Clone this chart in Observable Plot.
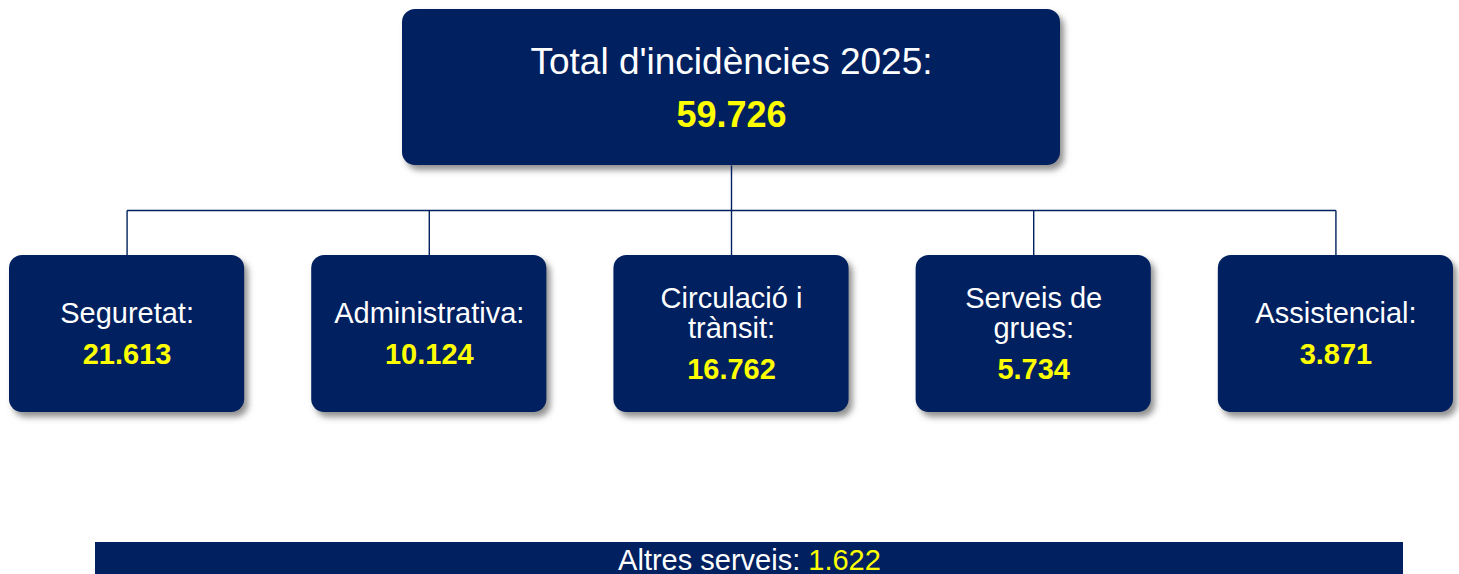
<!DOCTYPE html>
<html>
<head>
<meta charset="utf-8">
<script src="https://cdn.jsdelivr.net/npm/d3@7"></script>
<script src="https://cdn.jsdelivr.net/npm/@observablehq/plot@0.6"></script>
<style>
  html, body { margin: 0; padding: 0; background: #fff; }
  #chart svg { display: block; }
</style>
</head>
<body>
<div id="chart"></div>
<script>
// ---- Data ----
const totalLabel = "Total d'incidències 2025:";
const totalValue = 59726;
const categories = ["Seguretat:", "Administrativa:", "Circulació i\ntrànsit:", "Serveis de\ngrues:", "Assistencial:"];
const values = [21613, 10124, 16762, 5734, 3871];
const otherLabel = "Altres serveis:";
const otherValue = 1622;

// ---- Formatting ----
const locale = d3.formatLocale({decimal: ",", thousands: ".", grouping: [3], currency: ["", " €"]});
const fmt = locale.format(",d");

// ---- Layout ----
const W = 1459, H = 574;
const navy = "#002060", yellow = "#FFFF00";
const font = "'Liberation Sans', Arial, sans-serif";

const topBox = {x1: 402, x2: 1060, y1: 9, y2: 165};
const childTop = 255, childBottom = 412, busY = 210;
const band = d3.scaleBand().domain(categories).range([9, 1453]).paddingInner(67 / 302);
const children = categories.map((c, i) => {
  const x1 = band(c), x2 = x1 + band.bandwidth();
  const n = c.split("\n").length;
  return {
    label: c, value: values[i], x1, x2, cx: (x1 + x2) / 2,
    y1: childTop, y2: childBottom,
    valueY: 363 + (n - 1) * 15
  };
});
children.forEach(d => d.labelY = d.valueY - 41);
const topCx = (topBox.x1 + topBox.x2) / 2;

const links = [
  {x1: topCx, y1: topBox.y2, x2: topCx, y2: busY},
  {x1: children[0].cx, y1: busY, x2: children[children.length - 1].cx, y2: busY},
  ...children.map(d => ({x1: d.cx, y1: busY, x2: d.cx, y2: d.y1}))
];

const bottomBar = {x1: 95, x2: 1403, y1: 542, y2: 580};
// measure text to split the bottom label in two colours
const ctx = document.createElement("canvas").getContext("2d");
ctx.font = `29px ${font}`;
const wLab = ctx.measureText(otherLabel + " ").width;
const wVal = ctx.measureText(fmt(otherValue)).width;
const bcx = (bottomBar.x1 + bottomBar.x2) / 2;
const splitX = bcx - (wLab + wVal) / 2 + wLab;

const boxes = [{...topBox, r: 14}, ...children.map(d => ({...d, r: 12}))];

const chart = Plot.plot({
  width: W, height: H,
  margin: 0,
  x: {domain: [0, W], range: [0, W], axis: null},
  y: {domain: [0, H], range: [0, H], axis: null},
  style: {fontFamily: font, background: "transparent"},
  marks: [
    // shadows
    Plot.rect(boxes, {x1: "x1", x2: "x2", y1: "y1", y2: "y2", rx: 13, fill: "#6b6b6b", fillOpacity: 0.75, dx: 4, dy: 5}),
    // connectors
    Plot.link(links, {x1: "x1", y1: "y1", x2: "x2", y2: "y2", stroke: navy, strokeWidth: 1.4}),
    // boxes
    Plot.rect(boxes, {x1: "x1", x2: "x2", y1: "y1", y2: "y2", rx: 13, fill: navy}),
    // top box text
    Plot.text([totalLabel], {x: topCx, y: 73, text: d => d, fill: "white", fontSize: 37, lineAnchor: "bottom"}),
    Plot.text([totalValue], {x: topCx, y: 126, text: d => fmt(d), fill: yellow, fontSize: 36, fontWeight: "bold", lineAnchor: "bottom"}),
    // children text
    Plot.text(children, {x: "cx", y: "labelY", text: "label", fill: "white", fontSize: 29, lineAnchor: "bottom", lineHeight: 1.035}),
    Plot.text(children, {x: "cx", y: "valueY", text: d => fmt(d.value), fill: yellow, fontSize: 29, fontWeight: "bold", lineAnchor: "bottom"}),
    // bottom bar
    Plot.rect([bottomBar], {x1: "x1", x2: "x2", y1: "y1", y2: "y2", fill: navy}),
    Plot.text([otherLabel + " "], {x: splitX, y: 569, text: d => d, fill: "white", fontSize: 29, textAnchor: "end", lineAnchor: "bottom"}),
    Plot.text([otherValue], {x: splitX, y: 569, text: d => fmt(d), fill: yellow, fontSize: 29, textAnchor: "start", lineAnchor: "bottom"})
  ]
});

// soft drop shadow: blur the first rect layer
const ns = "http://www.w3.org/2000/svg";
const defs = document.createElementNS(ns, "defs");
defs.innerHTML = `<filter id="shadowBlur" x="-10%" y="-10%" width="120%" height="130%"><feGaussianBlur stdDeviation="3"/></filter>`;
chart.insertBefore(defs, chart.firstChild);
const rectGroups = chart.querySelectorAll('g[aria-label="rect"]');
if (rectGroups.length) rectGroups[0].setAttribute("filter", "url(#shadowBlur)");
// keep the trailing space in the white label
chart.querySelectorAll("text").forEach(t => t.setAttribute("xml:space", "preserve"));
chart.style.whiteSpace = "pre";

document.getElementById("chart").appendChild(chart);
</script>
</body>
</html>
